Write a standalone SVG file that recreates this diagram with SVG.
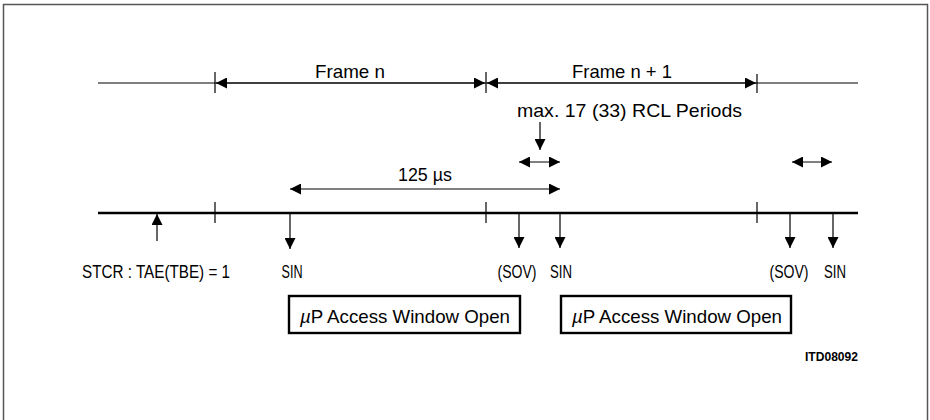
<svg xmlns="http://www.w3.org/2000/svg" width="930" height="420" viewBox="0 0 930 420">
<style>
.t{font-family:"Liberation Sans",Arial,sans-serif;font-size:19px;fill:#000}
.s{font-family:"Liberation Sans",Arial,sans-serif;font-size:13px;font-weight:bold;fill:#000}
.ln{stroke:#000;stroke-width:1.2;fill:none}
.tl{stroke:#000;stroke-width:2.4;fill:none}
.tk{stroke:#000;stroke-width:1.2}
.ar{stroke:#000;stroke-width:1.2;fill:none;marker-end:url(#ah)}
.da{stroke:#000;stroke-width:1.2;fill:none;marker-start:url(#ah);marker-end:url(#ah)}
.bx{fill:#fff;stroke:#000;stroke-width:2.4}
</style>
<defs>
<marker id="ah" viewBox="0 0 11 11" refX="11" refY="5.5" markerWidth="11" markerHeight="11" markerUnits="userSpaceOnUse" orient="auto-start-reverse">
<path d="M0,0 L11,5.5 L0,11 z" fill="#000"/>
</marker>
</defs>
<rect width="930" height="420" fill="#fff"/>
<rect x="3.5" y="4.5" width="924" height="440" fill="none" stroke="#555" stroke-width="1.5"/>

<g id="frame-scale">
<line class="ln" x1="98" y1="83" x2="858" y2="83"/>
<line class="tk" x1="215" y1="72" x2="215" y2="93"/>
<line class="tk" x1="486" y1="72" x2="486" y2="93"/>
<line class="tk" x1="757" y1="74" x2="757" y2="93"/>
<text class="t" x="315" y="78" textLength="70" lengthAdjust="spacingAndGlyphs">Frame n</text>
<text class="t" x="572" y="78" textLength="100" lengthAdjust="spacingAndGlyphs">Frame n + 1</text>
</g>

<g id="rcl-label">
<text class="t" x="517" y="117" textLength="225" lengthAdjust="spacingAndGlyphs">max. 17 (33) RCL Periods</text>
</g>

<g id="period-label">
<text class="t" x="398" y="181" textLength="54" lengthAdjust="spacingAndGlyphs">125 µs</text>
</g>

<g id="timeline">
<line class="tl" x1="98" y1="213" x2="858" y2="213"/>
<line class="tk" x1="215" y1="202" x2="215" y2="223"/>
<line class="tk" x1="486" y1="202" x2="486" y2="223"/>
<line class="tk" x1="757" y1="202" x2="757" y2="223"/>
</g>

<g id="event-labels">
<text class="t" x="82" y="278" textLength="148" lengthAdjust="spacingAndGlyphs">STCR : TAE(TBE) = 1</text>
<text class="t" x="292" y="278" text-anchor="middle" textLength="21" lengthAdjust="spacingAndGlyphs">SIN</text>
<text class="t" x="517" y="278" text-anchor="middle" textLength="39" lengthAdjust="spacingAndGlyphs">(SOV)</text>
<text class="t" x="561" y="278" text-anchor="middle" textLength="22" lengthAdjust="spacingAndGlyphs">SIN</text>
<text class="t" x="789" y="278" text-anchor="middle" textLength="39" lengthAdjust="spacingAndGlyphs">(SOV)</text>
<text class="t" x="835" y="278" text-anchor="middle" textLength="22" lengthAdjust="spacingAndGlyphs">SIN</text>
</g>

<g id="window1">
<rect class="bx" x="289" y="296" width="231" height="37"/>
<text class="t" x="300" y="323" textLength="210" lengthAdjust="spacingAndGlyphs"><tspan font-style="italic">µ</tspan>P Access Window Open</text>
</g>
<g id="window2">
<rect class="bx" x="561" y="296" width="230" height="37"/>
<text class="t" x="572" y="323" textLength="210" lengthAdjust="spacingAndGlyphs"><tspan font-style="italic">µ</tspan>P Access Window Open</text>
</g>

<g id="ref-code">
<text class="s" x="805" y="361" textLength="53" lengthAdjust="spacingAndGlyphs">ITD08092</text>
</g>

<g id="connectors">
<line class="da" x1="216" y1="83" x2="485" y2="83"/>
<line class="da" x1="487" y1="83" x2="756" y2="83"/>
<line class="ar" x1="540" y1="122" x2="540" y2="150"/>
<line class="da" x1="519" y1="162" x2="560" y2="162"/>
<line class="da" x1="792" y1="162" x2="832" y2="162"/>
<line class="da" x1="290" y1="189" x2="560" y2="189"/>
<line class="ar" x1="157" y1="241" x2="157" y2="214"/>
<line class="ar" x1="290" y1="214" x2="290" y2="249"/>
<line class="ar" x1="519" y1="214" x2="519" y2="248"/>
<line class="ar" x1="560" y1="214" x2="560" y2="248"/>
<line class="ar" x1="790" y1="214" x2="790" y2="248"/>
<line class="ar" x1="833" y1="214" x2="833" y2="248"/>
</g>
</svg>
